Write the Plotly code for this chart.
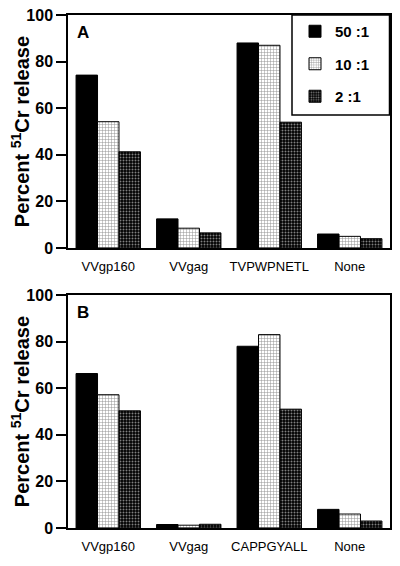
import plotly.graph_objects as go

cats_a = ["VVgp160", "VVgag", "TVPWPNETL", "None"]
cats_b = ["VVgp160", "VVgag", "CAPPGYALL", "None"]
series_names = ["50 :1", "10 :1", "2 :1"]
vals_a = {
    "50 :1": [74.2, 12.5, 88.0, 6.0],
    "10 :1": [54.2, 8.5, 87.0, 5.0],
    "2 :1": [41.3, 6.5, 54.0, 4.0],
}
vals_b = {
    "50 :1": [66.3, 1.5, 78.0, 8.0],
    "10 :1": [57.2, 1.2, 83.0, 6.0],
    "2 :1": [50.3, 1.6, 51.0, 3.0],
}
y_ticks = [0, 20, 40, 60, 80, 100]

FONT = "Liberation Sans, Arial, Helvetica, sans-serif"
styles = {
    "50 :1": dict(color="black", pattern=None),
    "10 :1": dict(color="white", pattern=dict(shape="+", fgcolor="#222", bgcolor="white", size=3, solidity=0.3)),
    "2 :1": dict(color="black", pattern=dict(shape=".", fgcolor="white", bgcolor="black", size=3, solidity=0.35)),
}

fig = go.Figure()
for panel, (cats, vals, xa, ya) in enumerate([(cats_a, vals_a, "x", "y"), (cats_b, vals_b, "x2", "y2")]):
    for i, name in enumerate(series_names):
        st = styles[name]
        marker = dict(color=st["color"], line=dict(color="black", width=1))
        if st["pattern"]:
            marker["pattern"] = st["pattern"]
        fig.add_trace(go.Bar(
            x=cats, y=vals[name], name=name, xaxis=xa, yaxis=ya,
            marker=marker, showlegend=(panel == 0), legendgroup=name,
        ))

# page is offset by the 8px body margin
W = 392
H = 558
OFF = 8
def fx(px):
    return (px - OFF) / W
def fy(py):
    return 1 - (py - OFF) / H

dom_x = [fx(68), fx(390)]
dom_a = [fy(248), fy(15)]
dom_b = [fy(528), fy(295)]

yaxis_common = dict(
    range=[0, 100], tickvals=y_ticks, ticks="outside", ticklen=10, tickwidth=1.5,
    tickcolor="black", showline=True, linecolor="black", linewidth=1.5, mirror=True,
    showgrid=False, zeroline=False, ticklabeloverflow="allow",
    tickfont=dict(family=FONT, size=16, color="black", weight="bold"),
    title=dict(text="Percent <sup>51</sup>Cr release", standoff=6,
               font=dict(family=FONT, size=20, color="black", weight="bold")),
    automargin=False,
)
xaxis_common = dict(
    showline=True, linecolor="black", linewidth=1.5, mirror=True, ticks="",
    showgrid=False, tickfont=dict(family=FONT, size=13, color="black"),
    automargin=False, ticklabelstandoff=6, ticklabeloverflow="allow",
)

fig.update_layout(
    width=W, height=H, margin=dict(l=0, r=0, t=0, b=0),
    paper_bgcolor="white", plot_bgcolor="white",
    barmode="group", bargap=0.2, bargroupgap=0,
    xaxis=dict(domain=dom_x, anchor="y", **xaxis_common),
    yaxis=dict(domain=dom_a, anchor="x", **yaxis_common),
    xaxis2=dict(domain=dom_x, anchor="y2", **xaxis_common),
    yaxis2=dict(domain=dom_b, anchor="x2", **yaxis_common),
    legend=dict(x=fx(295), y=fy(15), xanchor="left", yanchor="top",
                borderwidth=0, bgcolor="rgba(0,0,0,0)",
                font=dict(family=FONT, size=15, color="black", weight="bold"),
                tracegroupgap=10, itemwidth=30),
    shapes=[
        dict(type="rect", xref="paper", yref="paper", x0=fx(292), x1=fx(389.5), y0=fy(115), y1=fy(15),
             line=dict(color="black", width=1.5), fillcolor="white", layer="above"),
    ],
    annotations=[
        dict(text="A", x=0.022, y=0.925, xref="x domain", yref="y domain", showarrow=False,
             xanchor="left", yanchor="middle", font=dict(family=FONT, size=17, color="black", weight="bold")),
        dict(text="B", x=0.022, y=0.925, xref="x2 domain", yref="y2 domain", showarrow=False,
             xanchor="left", yanchor="middle", font=dict(family=FONT, size=17, color="black", weight="bold")),
    ],
)

fig.write_html("out.html")
